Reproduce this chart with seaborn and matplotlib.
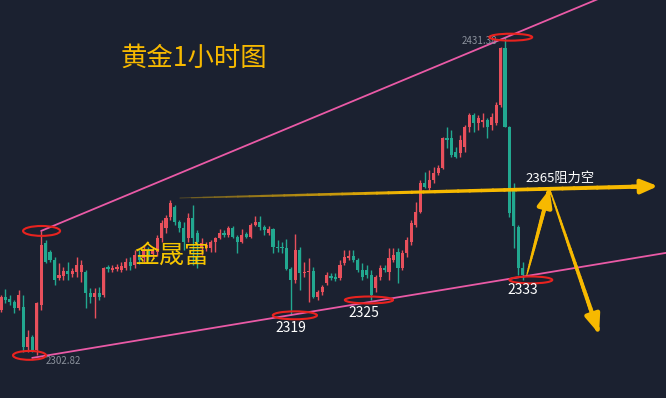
import numpy as np
import pandas as pd
import matplotlib
matplotlib.use("Agg")
import matplotlib.pyplot as plt
from matplotlib.patches import Ellipse
from matplotlib.collections import LineCollection
from matplotlib.colors import to_rgb
import seaborn as sns

# hourly gold candles (red = up, teal = down)
opens = [2321.2, 2326.4, 2325.6, 2324.4, 2322.0, 2322.4, 2306.2, 2310.3, 2305.0, 2323.2,
         2348.2, 2344.6, 2341.4, 2334.1, 2334.9, 2336.9, 2335.7, 2336.5, 2336.5, 2336.5,
         2328.0, 2326.4, 2328.0, 2327.2, 2338.5, 2337.3, 2337.7, 2337.3, 2338.1, 2340.6,
         2339.3, 2343.4, 2342.2, 2345.4, 2343.8, 2344.6, 2350.3, 2354.3, 2358.7, 2362.8,
         2356.7, 2354.3, 2350.3, 2358.3, 2352.3, 2346.2, 2346.2, 2346.2, 2348.6, 2350.3,
         2352.3, 2351.5, 2354.3, 2350.7, 2348.6, 2351.9, 2350.7, 2355.5, 2356.7, 2354.7,
         2352.3, 2353.9, 2346.6, 2346.6, 2346.2, 2337.7, 2333.3, 2345.4, 2336.1, 2336.5,
         2336.9, 2326.4, 2328.4, 2332.1, 2334.9, 2334.5, 2334.1, 2340.1, 2342.2, 2343.0,
         2341.4, 2337.3, 2337.3, 2335.3, 2330.0, 2334.5, 2338.1, 2336.5, 2341.4, 2344.6,
         2338.1, 2344.2, 2348.6, 2355.5, 2360.8, 2372.5, 2370.4, 2373.7, 2376.5, 2378.5,
         2390.6, 2390.6, 2385.0, 2384.6, 2387.0, 2395.1, 2399.9, 2396.7, 2397.1, 2397.9,
         2395.9, 2396.7, 2404.0, 2427.0, 2395.1, 2370.0, 2354.7, 2338.1]
highs = [2327.2, 2329.6, 2327.2, 2325.2, 2329.2, 2327.2, 2313.1, 2311.0, 2324.4, 2353.1,
         2349.4, 2345.4, 2342.6, 2340.1, 2338.5, 2340.6, 2338.1, 2342.6, 2341.4, 2337.3,
         2330.0, 2330.0, 2330.5, 2338.5, 2339.3, 2339.3, 2339.7, 2340.6, 2342.2, 2342.6,
         2345.4, 2345.4, 2347.4, 2346.6, 2346.6, 2351.5, 2357.5, 2359.5, 2365.6, 2363.6,
         2357.5, 2356.7, 2360.3, 2363.6, 2353.5, 2350.3, 2348.6, 2349.4, 2350.7, 2353.9,
         2353.5, 2355.1, 2355.1, 2351.5, 2353.9, 2352.7, 2356.3, 2359.1, 2359.1, 2355.5,
         2355.1, 2354.3, 2349.4, 2348.6, 2349.8, 2338.5, 2351.9, 2346.6, 2340.6, 2342.2,
         2338.5, 2329.2, 2331.3, 2336.5, 2336.1, 2336.1, 2341.4, 2345.4, 2345.4, 2345.4,
         2342.2, 2340.1, 2339.3, 2337.3, 2335.3, 2339.3, 2339.3, 2346.2, 2346.2, 2346.2,
         2345.4, 2350.7, 2357.5, 2364.8, 2373.7, 2376.9, 2377.7, 2378.9, 2379.7, 2391.1,
         2395.1, 2393.9, 2387.0, 2391.9, 2395.9, 2400.7, 2400.7, 2399.9, 2400.7, 2398.7,
         2400.7, 2405.2, 2427.4, 2431.38, 2395.5, 2372.5, 2355.5, 2340.6]
lows = [2320.5, 2324.0, 2323.2, 2320.0, 2321.2, 2304.2, 2304.2, 2304.2, 2302.82, 2321.2,
        2340.1, 2340.6, 2331.3, 2333.3, 2333.3, 2333.3, 2334.5, 2334.5, 2332.5, 2322.0,
        2324.0, 2317.9, 2325.2, 2326.4, 2336.5, 2336.5, 2336.9, 2336.5, 2337.3, 2337.3,
        2338.1, 2339.7, 2340.6, 2341.4, 2342.2, 2343.0, 2348.6, 2352.3, 2357.5, 2355.5,
        2352.7, 2345.4, 2348.6, 2339.3, 2338.1, 2343.4, 2345.0, 2344.6, 2344.6, 2349.8,
        2350.7, 2350.7, 2350.3, 2344.2, 2348.2, 2350.3, 2350.3, 2355.1, 2353.5, 2351.5,
        2351.5, 2344.2, 2344.6, 2344.2, 2337.3, 2319.0, 2332.1, 2329.2, 2334.5, 2324.4,
        2326.0, 2325.2, 2327.2, 2331.3, 2333.3, 2332.9, 2333.3, 2339.3, 2341.4, 2340.6,
        2336.5, 2333.3, 2334.1, 2325.2, 2328.4, 2333.3, 2336.5, 2333.3, 2340.6, 2332.1,
        2337.3, 2342.6, 2347.4, 2354.7, 2360.3, 2370.4, 2369.6, 2372.5, 2375.7, 2378.1,
        2386.6, 2383.0, 2382.6, 2383.0, 2385.0, 2393.1, 2393.1, 2393.9, 2395.1, 2390.6,
        2393.9, 2395.9, 2403.2, 2395.1, 2358.7, 2346.2, 2335.3, 2333.3]
closes = [2326.4, 2325.2, 2324.4, 2322.0, 2327.2, 2306.2, 2310.3, 2305.0, 2324.0, 2347.4,
          2340.6, 2341.4, 2333.3, 2335.3, 2336.9, 2335.7, 2336.9, 2339.3, 2339.3, 2328.0,
          2326.4, 2328.0, 2326.4, 2338.1, 2337.7, 2338.1, 2338.5, 2338.9, 2340.6, 2339.0,
          2343.4, 2341.4, 2345.4, 2343.0, 2345.0, 2350.3, 2356.3, 2358.3, 2364.4, 2356.7,
          2354.3, 2348.6, 2358.3, 2350.3, 2348.6, 2348.2, 2347.4, 2348.6, 2350.3, 2352.3,
          2351.5, 2354.3, 2350.7, 2348.6, 2351.5, 2350.7, 2355.5, 2356.7, 2354.7, 2353.5,
          2353.9, 2346.6, 2346.2, 2346.2, 2337.7, 2333.3, 2345.4, 2336.1, 2336.5, 2336.9,
          2326.4, 2328.4, 2330.5, 2335.3, 2334.1, 2333.7, 2339.3, 2342.6, 2343.0, 2341.4,
          2337.3, 2334.5, 2335.3, 2327.2, 2334.5, 2338.1, 2337.3, 2342.2, 2343.4, 2338.1,
          2344.2, 2349.4, 2356.3, 2360.8, 2372.5, 2370.9, 2373.7, 2376.5, 2378.5, 2390.6,
          2389.8, 2383.8, 2383.0, 2389.8, 2395.1, 2399.9, 2396.7, 2398.7, 2397.9, 2395.1,
          2399.1, 2404.0, 2427.0, 2395.1, 2360.3, 2355.0, 2338.1, 2335.3]

# channel lines (candle index, price)
upper_x = [9, 140]
upper_y = [2353.1, 2451.4]
lower_x = [7, 150]
lower_y = [2301.8, 2344.5]

# resistance line and the expected path
resist_x = [40.1, 147.3]
resist_y = [2366.4, 2371.2]
path_x = [117.9, 123.0, 134.1]
path_y = [2335.3, 2370.0, 2311.5]

# labelled swing points: candle index and price label
swing_idx = [65, 83, 117]
swing_text = ["2319", "2325", "2333"]

BG = "#1b2130"
UP = "#e8505c"
DOWN = "#22a890"
PINK = "#ea5aa6"
GOLD = "#f7b900"
RING = "#e8231f"

sns.set_theme(style="dark", rc={"axes.facecolor": BG, "figure.facecolor": BG})
plt.rcParams["font.family"] = ["Noto Sans CJK SC", "DejaVu Sans"]


def tapered_arrow(ax, x0, y0, x1, y1, w0, w1, c0, c1, head=(0.95, 0.42), ramp=0.6):
    """Shaft that widens from w0 to w1 (and fades c0 -> c1), with a filled head at (x1, y1)."""
    n = 40
    t = np.linspace(0, 0.97, n + 1)
    xs = x0 + (x1 - x0) * t
    ys = y0 + (y1 - y0) * t
    segs = np.stack([np.column_stack([xs[:-1], ys[:-1]]), np.column_stack([xs[1:], ys[1:]])], axis=1)
    f = np.linspace(0, 1, n)
    g = np.clip(f * 2, 0, 1)
    a, b = np.array(to_rgb(c0)), np.array(to_rgb(c1))
    cols = a[None, :] * (1 - g[:, None]) + b[None, :] * g[:, None]
    lc = LineCollection(segs, linewidths=w0 + (w1 - w0) * f ** ramp, colors=cols,
                        capstyle="round", antialiaseds=True, zorder=7)
    ax.add_collection(lc)
    ax.annotate("", xy=(x1, y1), xytext=(xs[-2], ys[-2]),
                arrowprops=dict(arrowstyle=f"-|>,head_length={head[0]},head_width={head[1]}",
                                color=c1, lw=w1, shrinkA=0, shrinkB=0, mutation_scale=10),
                zorder=7)


df = pd.DataFrame({"open": opens, "high": highs, "low": lows, "close": closes})
df["idx"] = np.arange(len(df))
df["up"] = df["close"] >= df["open"]
df["color"] = np.where(df["up"], UP, DOWN)
df["bottom"] = df[["open", "close"]].min(axis=1)
df["height"] = (df["close"] - df["open"]).abs().clip(lower=0.5)

fig = plt.figure(figsize=(6.66, 3.98), dpi=100)
ax = fig.add_axes([0, 0, 1, 1])
ax.set_xlim(-0.22, 149.1)
ax.set_ylim(2285.6, 2446.4)
ax.set_axis_off()

# candles
ax.vlines(df["idx"], df["low"], df["high"], colors=df["color"], lw=1.0, zorder=2)
ax.bar(df["idx"], df["height"], bottom=df["bottom"], width=0.7,
       color=df["color"], linewidth=0, zorder=3)

# channel
sns.lineplot(x=upper_x, y=upper_y, ax=ax, color=PINK, lw=1.3, zorder=4)
sns.lineplot(x=lower_x, y=lower_y, ax=ax, color=PINK, lw=1.3, zorder=4)

# red rings on the key highs / lows (offset in candles, size in candles x price)
rings = [(9, highs[9], 0.1, 8.3, 4.0),
         (8, lows[8], -1.6, 7.4, 3.6),
         (65, lows[65], 0.9, 9.9, 3.2),
         (83, lows[83], -0.5, 10.8, 2.8),
         (117, lows[117], 1.8, 9.6, 2.8),
         (113, highs[113], 1.3, 9.6, 2.8)]
for i, p, dx, w, h in rings:
    ax.add_patch(Ellipse((i + dx, p), w, h, fill=False, ec=RING, lw=1.5, zorder=6))

# resistance arrow, thin and dim on the left, bright at the head
tapered_arrow(ax, resist_x[0], resist_y[0], resist_x[1], resist_y[1],
              0.5, 3.0, "#6b5a24", GOLD, head=(1.0, 0.42), ramp=0.5)
ax.text(117.5, 2374.3, "2365阻力空", color="white", fontsize=9.5,
        ha="left", va="center", zorder=8)

# up then down path
tapered_arrow(ax, path_x[0], path_y[0], path_x[1], path_y[1], 0.8, 3.2, GOLD, GOLD, head=(1.0, 0.42))
tapered_arrow(ax, path_x[1], path_y[1], path_x[2], path_y[2], 0.8, 3.2, GOLD, GOLD, head=(1.1, 0.44))

# price labels
offsets = [(0, -9), (-5, -9.5), (0, -7)]
for i, t, off in zip(swing_idx, swing_text, offsets):
    ax.annotate(t, xy=(i, lows[i]), xytext=off, textcoords="offset points",
                color="white", fontsize=10, ha="center", va="center", zorder=8)

ax.annotate(f"{lows[8]:.2f}", xy=(8, lows[8]), xytext=(6.7, -4.3), textcoords="offset points",
            color="#8b919c", fontsize=7, ha="left", va="center", zorder=8)
ax.annotate(f"{highs[113]:.2f}", xy=(113, highs[113]), xytext=(-5.5, -2.5), textcoords="offset points",
            color="#8b919c", fontsize=7, ha="right", va="center", zorder=5)

ax.text(43.3, 2423.0, "黄金1小时图", color=GOLD, fontsize=19, ha="center", va="center")
ax.text(38.3, 2343.0, "金晟富", color="#f7c600", fontsize=18, ha="center", va="center", zorder=8)

fig.savefig("out.png", dpi=100, facecolor=BG)
